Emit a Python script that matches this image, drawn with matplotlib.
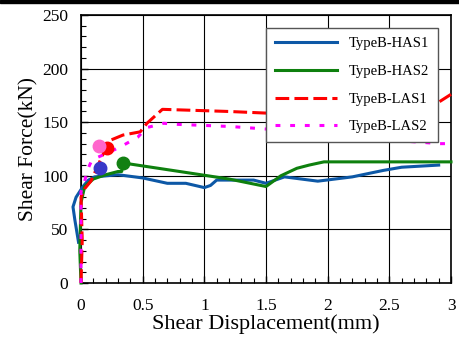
import numpy as np
import matplotlib.pyplot as plt
from matplotlib.ticker import MultipleLocator
import matplotlib.patches as mpatches

plt.rcParams['font.family'] = 'Liberation Serif'

# TypeB-HAS1
has1_x = [-0.02, -0.05, -0.065, -0.04, 0.016, 0.06, 0.11, 0.3, 0.5, 0.7, 0.85, 1.0, 1.05, 1.1, 1.4, 1.5, 1.65, 1.92, 2.2, 2.45, 2.6, 2.9]
has1_y = [38, 59, 71, 80, 90, 96, 99, 101, 98, 93, 93, 89, 91, 96, 96, 93, 99, 95, 99, 105, 108, 110]
# TypeB-HAS2
has2_x = [0.0, -0.01, 0.0, 0.03, 0.1, 0.2, 0.3, 0.33, 0.34, 0.8, 1.2, 1.5, 1.62, 1.75, 1.85, 1.97, 3.0]
has2_y = [0, 30, 75, 90, 97, 101, 104, 104, 112, 104, 97, 90, 100, 107, 110, 113, 113]
# TypeB-LAS1
las1_x = [0.0, 0.01, 0.0, 0.03, 0.08, 0.12, 0.17, 0.235, 0.34, 0.48, 0.535, 0.66, 1.2, 1.6, 2.2, 2.7, 2.85, 3.0]
las1_y = [0, 40, 80, 88, 95, 105, 118, 133, 138, 141, 149, 162, 160, 158, 157, 160, 165, 176]
# TypeB-LAS2
las2_x = [0.0, 0.0, 0.0, 0.03, 0.05, 0.09, 0.21, 0.32, 0.46, 0.535, 0.67, 0.78, 1.21, 1.7, 2.2, 2.55, 2.91, 3.0]
las2_y = [0, 40, 85, 95, 105, 115, 121, 127, 136, 145, 149, 148, 146, 142, 137, 133, 130, 130]

# peak points
peak_x = [0.154, 0.34, 0.21, 0.146]
peak_y = [107, 112, 126, 128]
peak_c = ['#3838C8', '#128012', '#FF0000', '#FF66CC']

labels = ['TypeB-HAS1', 'TypeB-HAS2', 'TypeB-LAS1', 'TypeB-LAS2']

fig = plt.figure(figsize=(4.59, 3.40), dpi=100)
ax = fig.add_axes([81/459, 57/340, 370/459, 268/340])
fig.patches.append(mpatches.Rectangle((0, 1 - 3/340), 1, 3/340, transform=fig.transFigure,
                                      color='black', zorder=10))

lw = 2.2
ax.plot(has1_x, has1_y, color='#0D58A6', lw=lw, label=labels[0], clip_on=False, zorder=3)
ax.plot(has2_x, has2_y, color='#0E800E', lw=lw, label=labels[1], clip_on=False, zorder=3)
ax.plot(las1_x, las1_y, color='#FF0000', lw=lw, ls=(0, (4.5, 1.7)), label=labels[2], clip_on=False, zorder=3)
ax.plot(las2_x, las2_y, color='#FF00FF', lw=lw, ls=(0, (1.6, 3.2)), label=labels[3], clip_on=False, zorder=3)

for px, py, c in zip(peak_x, peak_y, peak_c):
    ax.plot(px, py, 'o', color=c, ms=9, zorder=4)

ax.set_xlim(0, 3)
ax.set_ylim(0, 250)
ax.xaxis.set_minor_locator(MultipleLocator(0.1))
ax.yaxis.set_major_locator(MultipleLocator(50))
ax.yaxis.set_minor_locator(MultipleLocator(10))
ax.xaxis.set_ticks([0, 0.5, 1, 1.5, 2, 2.5, 3])
ax.set_xticklabels(['0', '0.5', '1', '1.5', '2', '2.5', '3'])
ax.tick_params(which='both', direction='in', labelsize=12.5, top=False, right=False)
ax.tick_params(axis='y', pad=9)
ax.tick_params(axis='x', pad=11)
ax.tick_params(which='major', length=5, width=1)
ax.tick_params(which='minor', length=3.5, width=0.8)
ax.grid(True, which='major', color='black', lw=0.8)
for s in ax.spines.values():
    s.set_linewidth(1.2)

ax.set_xlabel('Shear Displacement(mm)', fontsize=16, labelpad=0)
ax.set_ylabel('Shear Force(kN)', fontsize=15.5, labelpad=3)

leg = ax.legend(loc='upper right', bbox_to_anchor=(0.965, 0.951), borderaxespad=0,
                fontsize=10.5, handlelength=4.3, labelspacing=1.0, handletextpad=0.8,
                borderpad=0.6, fancybox=False, framealpha=1, edgecolor='#555555')
leg.get_frame().set_linewidth(1.0)

fig.savefig('out.png', dpi=100)
